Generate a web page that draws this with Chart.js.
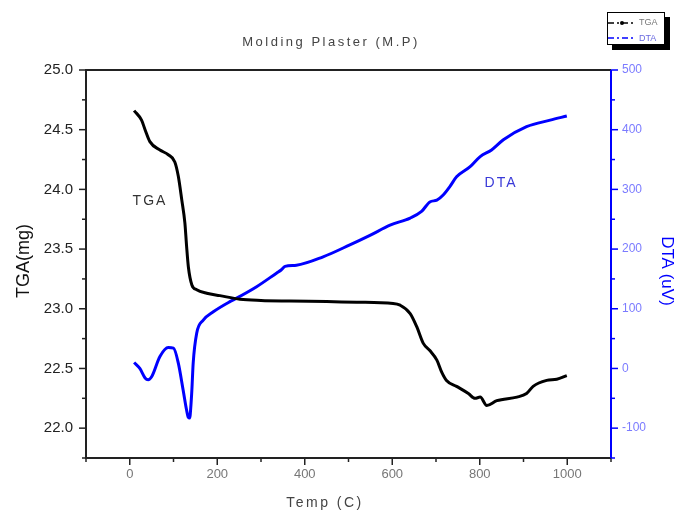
<!DOCTYPE html>
<html>
<head>
<meta charset="utf-8">
<script src="https://cdn.jsdelivr.net/npm/chart.js@4"></script>
<style>
  html, body { margin: 0; padding: 0; background: #fff; }
</style>
</head>
<body>
<canvas id="chart" width="680" height="513"></canvas>
<script>
// TGA curve (temperature C, mass mg)
const tgaTemp = [10, 27, 35, 46, 69, 88, 103, 111, 119, 126, 130, 134, 142, 153, 176, 206, 252, 300, 366, 450, 519, 602, 618, 641, 656, 671, 686, 702, 713, 724, 747, 774, 789, 801, 816, 839, 885, 907, 922, 953, 976, 999];
const tgaMass = [24.66, 24.58, 24.50, 24.40, 24.33, 24.29, 24.23, 24.11, 23.91, 23.72, 23.52, 23.35, 23.20, 23.16, 23.13, 23.11, 23.08, 23.07, 23.065, 23.06, 23.055, 23.045, 23.03, 22.96, 22.85, 22.71, 22.65, 22.57, 22.47, 22.40, 22.35, 22.29, 22.25, 22.26, 22.19, 22.23, 22.26, 22.29, 22.35, 22.40, 22.41, 22.44];

// DTA curve (temperature C, signal uV)
const dtaTemp = [10, 23, 35, 42, 50, 69, 88, 100, 111, 122, 130, 134, 137, 140, 142, 145, 153, 168, 191, 229, 237, 290, 336, 346, 355, 381, 442, 503, 549, 595, 641, 667, 686, 702, 717, 732, 747, 778, 801, 827, 854, 907, 961, 999];
const dtaSignal = [10, 0, -16, -19, -14, 20, 35, 34, 9, -36, -70, -82, -83, -60, -36, 9, 59, 81, 95, 112, 115, 137, 160, 165, 171, 173, 187, 207, 223, 240, 252, 263, 279, 282, 291, 305, 321, 338, 355, 366, 383, 405, 416, 423];

// axis ranges and labelled ticks
const tempRange = [-100, 1100];
const tempLabels = [0, 200, 400, 600, 800, 1000];
const tgaRange = [21.75, 25.0];
const tgaLabels = [22.0, 22.5, 23.0, 23.5, 24.0, 24.5, 25.0];
const dtaRange = [-150, 500];
const dtaLabels = [-100, 0, 100, 200, 300, 400, 500];

const BLUE = "#0000ff";

function near(v, list) {
  return list.find((l) => Math.abs(l - v) < 1e-6);
}

// frame, tick marks, titles, legend and curve labels
const decor = {
  id: "decor",
  afterDraw(chart) {
    const { ctx, chartArea: a, scales } = chart;
    ctx.save();

    // tick marks
    ctx.lineWidth = 1.5;
    ctx.strokeStyle = "#222";
    scales.x.ticks.forEach((t) => {
      const px = scales.x.getPixelForValue(t.value);
      const len = near(t.value, tempLabels) !== undefined ? 7 : 4;
      ctx.beginPath();
      ctx.moveTo(px, a.bottom);
      ctx.lineTo(px, a.bottom + len);
      ctx.stroke();
    });
    scales.y.ticks.forEach((t) => {
      const py = scales.y.getPixelForValue(t.value);
      const len = near(t.value, tgaLabels) !== undefined ? 7 : 4;
      ctx.beginPath();
      ctx.moveTo(a.left, py);
      ctx.lineTo(a.left - len, py);
      ctx.stroke();
    });
    ctx.strokeStyle = BLUE;
    scales.y2.ticks.forEach((t) => {
      const py = scales.y2.getPixelForValue(t.value);
      const len = near(t.value, dtaLabels) !== undefined ? 7 : 4;
      ctx.beginPath();
      ctx.moveTo(a.right, py);
      ctx.lineTo(a.right + len, py);
      ctx.stroke();
    });

    // frame
    ctx.lineWidth = 2;
    ctx.strokeStyle = "#222";
    ctx.beginPath();
    ctx.moveTo(a.right, a.top);
    ctx.lineTo(a.left, a.top);
    ctx.lineTo(a.left, a.bottom);
    ctx.lineTo(a.right, a.bottom);
    ctx.stroke();
    ctx.strokeStyle = BLUE;
    ctx.beginPath();
    ctx.moveTo(a.right, a.top);
    ctx.lineTo(a.right, a.bottom);
    ctx.stroke();

    // titles
    ctx.textBaseline = "middle";
    ctx.textAlign = "center";
    ctx.fillStyle = "#444";
    ctx.font = "13px 'Liberation Sans', Arial, sans-serif";
    ctx.letterSpacing = "2.5px";
    ctx.fillText("Molding Plaster (M.P)", 331, 42);
    ctx.font = "14px 'Liberation Sans', Arial, sans-serif";
    ctx.fillText("Temp (C)", 325, 503);

    ctx.letterSpacing = "0px";
    ctx.fillStyle = "#111";
    ctx.font = "18px 'Liberation Sans', Arial, sans-serif";
    ctx.save();
    ctx.translate(24, 261);
    ctx.rotate(-Math.PI / 2);
    ctx.fillText("TGA(mg)", 0, 0);
    ctx.restore();

    ctx.fillStyle = BLUE;
    ctx.font = "17px 'Liberation Sans', Arial, sans-serif";
    ctx.save();
    ctx.translate(667, 271);
    ctx.rotate(Math.PI / 2);
    ctx.fillText("DTA (uV)", 0, 0);
    ctx.restore();

    // curve labels
    ctx.letterSpacing = "2px";
    ctx.font = "14px 'Liberation Sans', Arial, sans-serif";
    ctx.fillStyle = "#333";
    ctx.fillText("TGA", 150, 201);
    ctx.fillStyle = "#3a3ad8";
    ctx.fillText("DTA", 501, 183);
    ctx.letterSpacing = "0px";

    // legend box with shadow
    ctx.fillStyle = "#000";
    ctx.fillRect(612, 17, 58, 33);
    ctx.fillStyle = "#fff";
    ctx.fillRect(607, 12, 58, 33);
    ctx.lineWidth = 1;
    ctx.strokeStyle = "#000";
    ctx.strokeRect(607.5, 12.5, 57, 32);

    ctx.lineWidth = 1.5;
    ctx.setLineDash([6, 3, 2, 3]);
    ctx.strokeStyle = "#000";
    ctx.beginPath();
    ctx.moveTo(608, 23);
    ctx.lineTo(636, 23);
    ctx.stroke();
    ctx.strokeStyle = BLUE;
    ctx.beginPath();
    ctx.moveTo(608, 38);
    ctx.lineTo(636, 38);
    ctx.stroke();
    ctx.setLineDash([]);
    ctx.fillStyle = "#000";
    ctx.beginPath();
    ctx.arc(622, 23, 2, 0, Math.PI * 2);
    ctx.fill();

    ctx.textAlign = "left";
    ctx.font = "9px 'Liberation Sans', Arial, sans-serif";
    ctx.fillStyle = "#777";
    ctx.fillText("TGA", 639, 23);
    ctx.fillStyle = "#6a6ae0";
    ctx.fillText("DTA", 639, 39);

    ctx.restore();
  },
};

const ctx = document.getElementById("chart").getContext("2d");
new Chart(ctx, {
  type: "line",
  data: {
    datasets: [
      {
        label: "TGA",
        data: tgaTemp.map((t, i) => ({ x: t, y: tgaMass[i] })),
        borderColor: "#000",
        borderWidth: 3,
        pointRadius: 0,
        cubicInterpolationMode: "monotone",
        yAxisID: "y",
      },
      {
        label: "DTA",
        data: dtaTemp.map((t, i) => ({ x: t, y: dtaSignal[i] })),
        borderColor: BLUE,
        borderWidth: 3,
        pointRadius: 0,
        cubicInterpolationMode: "monotone",
        yAxisID: "y2",
      },
    ],
  },
  options: {
    responsive: false,
    animation: false,
    devicePixelRatio: 1,
    layout: { padding: { top: 70, left: 0, right: 0, bottom: 0 } },
    plugins: { legend: { display: false }, title: { display: false }, tooltip: { enabled: false } },
    scales: {
      x: {
        type: "linear",
        min: tempRange[0],
        max: tempRange[1],
        grid: { display: false, drawTicks: false },
        border: { display: false },
        ticks: {
          stepSize: 100,
          autoSkip: false,
          maxRotation: 0,
          padding: 9,
          color: "#777",
          font: { size: 13, family: "'Liberation Sans', Arial, sans-serif" },
          callback: (v) => {
            const m = near(v, tempLabels);
            return m !== undefined ? String(m) : "";
          },
        },
        afterFit: (s) => { s.height = 55; },
      },
      y: {
        position: "left",
        min: tgaRange[0],
        max: tgaRange[1],
        grid: { display: false, drawTicks: false },
        border: { display: false },
        ticks: {
          stepSize: 0.25,
          autoSkip: false,
          padding: 13,
          color: "#222",
          font: { size: 15, family: "'Liberation Sans', Arial, sans-serif" },
          callback: (v) => {
            const m = near(v, tgaLabels);
            return m !== undefined ? m.toFixed(1) : "";
          },
        },
        afterFit: (s) => { s.width = 86; },
      },
      y2: {
        position: "right",
        min: dtaRange[0],
        max: dtaRange[1],
        grid: { display: false, drawTicks: false },
        border: { display: false },
        ticks: {
          stepSize: 50,
          autoSkip: false,
          padding: 11,
          color: "#7b7bff",
          font: { size: 12, family: "'Liberation Sans', Arial, sans-serif" },
          callback: (v) => {
            const m = near(v, dtaLabels);
            return m !== undefined ? String(m) : "";
          },
        },
        afterFit: (s) => { s.width = 69; },
      },
    },
  },
  plugins: [decor],
});
</script>
</body>
</html>
